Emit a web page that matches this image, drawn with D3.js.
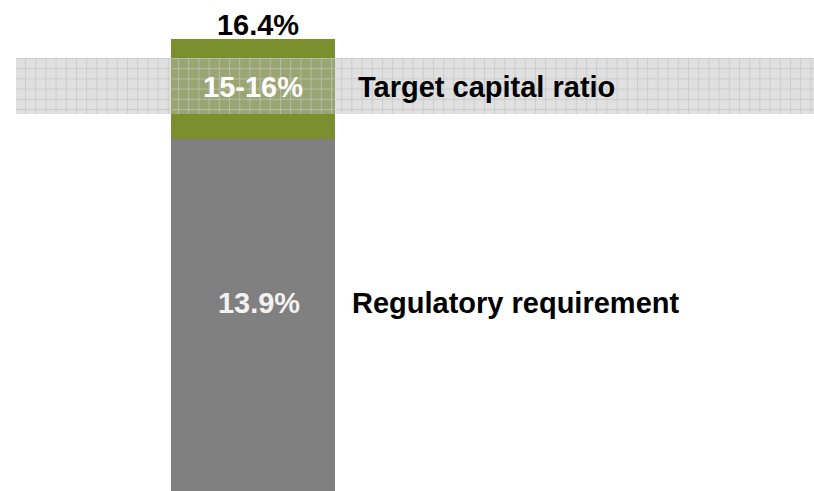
<!DOCTYPE html>
<html>
<head>
<meta charset="utf-8">
<script src="https://cdn.jsdelivr.net/npm/d3@7"></script>
<style>
  body { margin: 0; background: #fff; }
  text { font-family: "Liberation Sans", Arial, sans-serif; font-weight: bold; }
</style>
</head>
<body>
<div id="chart"></div>
<script>
// data
const barCategory = ["Capital"]
const regulatory = 13.9
const total = 16.4
const targetRange = [15, 16]
const labels = {
  total: "16.4%",
  target: "15-16%",
  regulatory: "13.9%",
  targetName: "Target capital ratio",
  regulatoryName: "Regulatory requirement"
}

const width = 814
const height = 491

let svg = d3.select("#chart").append("svg")
  .attr("width", width)
  .attr("height", height)

// schematic chart: value axis is not linear in the original
let y = d3.scaleLinear()
  .domain([0, regulatory, targetRange[0], targetRange[1], total])
  .range([height, 139, 114, 58, 39])

let x = d3.scaleBand()
  .domain(barCategory)
  .range([171, 335])
  .padding(0)

// grid pattern for the target band
let defs = svg.append("defs")
let step = 10.2
let pat = defs.append("pattern")
  .attr("id", "grid")
  .attr("patternUnits", "userSpaceOnUse")
  .attr("x", 25)
  .attr("y", 68.2)
  .attr("width", step)
  .attr("height", step)
pat.append("rect")
  .attr("width", step).attr("height", step)
  .attr("fill", "rgba(189,189,189,0.47)")
pat.append("line")
  .attr("x1", 0.5).attr("y1", 0).attr("x2", 0.5).attr("y2", step)
  .attr("stroke", "rgba(195,195,195,0.7)").attr("stroke-width", 1)
pat.append("line")
  .attr("x1", 0).attr("y1", 0.5).attr("x2", step).attr("y2", 0.5)
  .attr("stroke", "rgba(195,195,195,0.7)").attr("stroke-width", 1)

// stacked bar
let stack = [
  { name: "regulatory", y0: 0, y1: regulatory, color: "#808080" },
  { name: "buffer", y0: regulatory, y1: total, color: "#7b8f2e" }
]
svg.selectAll(".seg").data(stack).enter()
  .append("rect")
  .attr("class", "seg")
  .attr("x", x(barCategory[0]))
  .attr("width", x.bandwidth())
  .attr("y", d => y(d.y1))
  .attr("height", d => y(d.y0) - y(d.y1))
  .attr("fill", d => d.color)

// target band
svg.append("rect")
  .attr("x", 16)
  .attr("width", width - 16)
  .attr("y", y(targetRange[1]))
  .attr("height", y(targetRange[0]) - y(targetRange[1]))
  .attr("fill", "url(#grid)")

let cx = x(barCategory[0]) + x.bandwidth() / 2
let fs = "29px"

svg.append("text")
  .attr("x", cx + 5).attr("y", y(total) - 4)
  .attr("text-anchor", "middle")
  .attr("font-size", fs)
  .attr("fill", "#000")
  .text(labels.total)

svg.append("text")
  .attr("x", cx).attr("y", 97)
  .attr("text-anchor", "middle")
  .attr("font-size", fs)
  .attr("fill", "#fff")
  .text(labels.target)

svg.append("text")
  .attr("x", 358).attr("y", 97)
  .attr("font-size", fs)
  .attr("fill", "#000")
  .text(labels.targetName)

svg.append("text")
  .attr("x", cx + 6).attr("y", 313)
  .attr("text-anchor", "middle")
  .attr("font-size", fs)
  .attr("fill", "#f2f2f2")
  .text(labels.regulatory)

svg.append("text")
  .attr("x", 352).attr("y", 313)
  .attr("font-size", fs)
  .attr("fill", "#000")
  .text(labels.regulatoryName)
</script>
</body>
</html>
